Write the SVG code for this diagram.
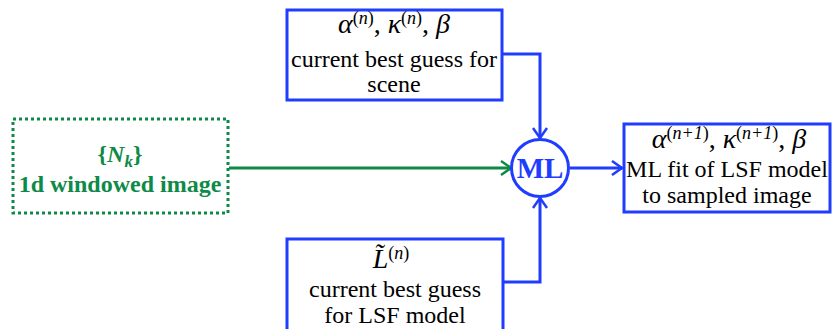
<svg xmlns="http://www.w3.org/2000/svg" width="834" height="329" viewBox="0 0 834 329">
<style>
.box{fill:#fff;stroke:#1f3cff;stroke-width:3}
.gbox{fill:#fff;stroke:#0e8a48;stroke-width:3;stroke-dasharray:3 3}
.t{font-family:"Liberation Serif",serif;font-size:24px;fill:#000;text-anchor:middle}
.m{font-family:"Liberation Serif",serif;font-size:28px;font-style:italic;fill:#000;text-anchor:middle}
.sup{font-size:18px}
.up{font-style:normal}
.g{font-family:"Liberation Serif",serif;font-size:24px;font-weight:bold;fill:#0e8a48;text-anchor:middle}
.ml{font-family:"Liberation Serif",serif;font-size:29px;font-weight:bold;fill:#1f3cff;text-anchor:middle}
.c{fill:none;stroke:#1f3cff;stroke-width:3}
.cg{fill:none;stroke:#0e8a48;stroke-width:3}
</style>
<defs>
<marker id="ab" markerWidth="16" markerHeight="16" refX="13" refY="8" orient="auto" markerUnits="userSpaceOnUse">
<polyline points="3,1 13,8 3,15" fill="none" stroke="#1f3cff" stroke-width="2.5"/>
</marker>
<marker id="ag" markerWidth="16" markerHeight="16" refX="13" refY="8" orient="auto" markerUnits="userSpaceOnUse">
<polyline points="3,1 13,8 3,15" fill="none" stroke="#0e8a48" stroke-width="2.5"/>
</marker>
</defs>
<g id="connectors">
<polyline class="c" points="502,54 540,54 540,138" marker-end="url(#ab)"/>
<polyline class="c" points="503,282 540,282 540,198" marker-end="url(#ab)"/>
<line class="cg" x1="229" y1="168" x2="511" y2="168" marker-end="url(#ag)"/>
<line class="c" x1="570" y1="168" x2="622" y2="168" marker-end="url(#ab)"/>
</g>
<g id="scene">
<rect class="box" x="287" y="10" width="215" height="90"/>
<text class="m" x="394" y="33">α<tspan class="sup up" dy="-9">(</tspan><tspan class="sup">n</tspan><tspan class="sup up">)</tspan><tspan class="up" dy="9">, </tspan>κ<tspan class="sup up" dy="-9">(</tspan><tspan class="sup">n</tspan><tspan class="sup up">)</tspan><tspan class="up" dy="9">, </tspan>β</text>
<text class="t" x="394" y="67">current best guess for</text>
<text class="t" x="394" y="92">scene</text>
</g>
<g id="image">
<rect class="gbox" x="13" y="119" width="215" height="94"/>
<text class="g" x="120" y="162">{<tspan font-style="italic">N</tspan><tspan font-style="italic" font-size="17" dy="5">k</tspan><tspan dy="-5">}</tspan></text>
<text class="g" x="120" y="192">1d windowed image</text>
</g>
<g id="ml">
<circle cx="540" cy="168" r="28.5" fill="#fff" stroke="#1f3cff" stroke-width="3"/>
<text class="ml" x="540" y="178">ML</text>
</g>
<g id="fit">
<rect class="box" x="624" y="124" width="206" height="88"/>
<text class="m" x="729" y="148">α<tspan class="sup up" dy="-9">(</tspan><tspan class="sup">n+1</tspan><tspan class="sup up">)</tspan><tspan class="up" dy="9">, </tspan>κ<tspan class="sup up" dy="-9">(</tspan><tspan class="sup">n+1</tspan><tspan class="sup up">)</tspan><tspan class="up" dy="9">, </tspan>β</text>
<text class="t" x="727" y="177">ML fit of LSF model</text>
<text class="t" x="727" y="203">to sampled image</text>
</g>
<g id="lsf">
<rect class="box" x="287" y="239" width="216" height="95"/>
<text class="m" x="391" y="268">L̃<tspan class="sup up" dy="-9">(</tspan><tspan class="sup">n</tspan><tspan class="sup up">)</tspan></text>
<text class="t" x="395" y="297">current best guess</text>
<text class="t" x="395" y="323">for LSF model</text>
</g>
</svg>
